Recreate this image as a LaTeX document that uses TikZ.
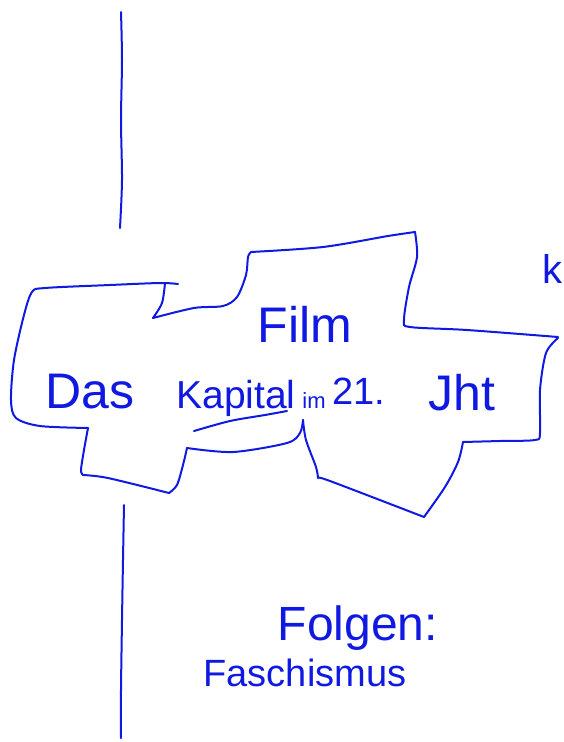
\documentclass[tikz,border=0pt]{standalone}
\usepackage{fontspec}
\setmainfont{Liberation Sans}
\definecolor{ink}{RGB}{15,25,225}
\begin{document}
\begin{tikzpicture}[x=1pt,y=-1pt,
  pen/.style={draw=ink,line width=2pt,line cap=round,line join=round},
  hand/.style={text=ink,inner sep=0pt,anchor=base}]
\useasboundingbox (0,0) rectangle (563,742);
% vertical lines
\draw[pen] plot[smooth] coordinates {(121,12) (122,60) (121,120) (122,180) (120,228)};
\draw[pen] plot[smooth] coordinates {(124,505) (123,560) (122,620) (121,690) (121,738)};
% cloud outline
\draw[pen] plot[smooth,tension=0.5] coordinates {(178,284) (160,283) (110,285) (45,288) (32,292) (24,315) (14,360) (11,400) (16,418) (40,426) (88,428)};
\draw[pen] plot[smooth,tension=0.5] coordinates {(88,428) (84,450) (81,470) (83,475)};
\draw[pen] plot[smooth,tension=0.5] coordinates {(83,475) (108,478) (169,493)};
\draw[pen] plot[smooth,tension=0.5] coordinates {(169,493) (177,485) (183,465) (187,448)};
\draw[pen] plot[smooth,tension=0.5] coordinates {(187,448) (233,452) (287,443) (300,433) (303,420)};
\draw[pen] plot[smooth,tension=0.5] coordinates {(303,420) (306,440) (316,467) (318,478)};
\draw[pen] plot[smooth,tension=0.5] coordinates {(318,478) (330,481) (424,517)};
\draw[pen] plot[smooth,tension=0.5] coordinates {(424,517) (445,487) (458,462) (463,442)};
\draw[pen] plot[smooth,tension=0.5] coordinates {(463,442) (500,441) (535,440) (540,433) (540,390) (546,353) (558,338)};
\draw[pen] plot[smooth,tension=0.5] coordinates {(558,337) (467,330) (410,327) (404,320) (409,287) (417,257) (415,232)};
\draw[pen] plot[smooth,tension=0.5] coordinates {(415,232) (388,236) (323,247) (251,252)};
\draw[pen] plot[smooth,tension=0.5] coordinates {(251,252) (248,257) (246,275) (237,297) (223,306) (194,308) (153,318)};
\draw[pen] plot[smooth,tension=0.5] coordinates {(153,318) (162,303) (165,283)};
% texts
\node[hand,font=\fontsize{50}{52}\selectfont] (film) at (305,342) {Film};
\node[hand,font=\fontsize{50}{52}\selectfont] (das) at (90,408) {Das};
\node[hand,font=\fontsize{39}{41}\selectfont] (kap) at (236,408) {Kapital};
\node[hand,font=\fontsize{22}{24}\selectfont] (im) at (314,408) {im};
\node[hand,font=\fontsize{38}{40}\selectfont] (jh21) at (359,404) {21.};
\node[hand,font=\fontsize{50}{52}\selectfont] (jht) at (462,410) {Jht};
\draw[pen] plot[smooth] coordinates {(194,431) (230,421) (265,415) (287,411)};
\node[hand,font=\fontsize{48}{50}\selectfont] (folgen) at (358,640) {Folgen:};
\node[hand,font=\fontsize{38}{40}\selectfont] (fasch) at (305,686) {Faschismus};
\node[text=ink,inner sep=0pt,anchor=base east,font=\fontsize{40}{42}\selectfont] (kk) at (563,283) {k};
\end{tikzpicture}
\end{document}
